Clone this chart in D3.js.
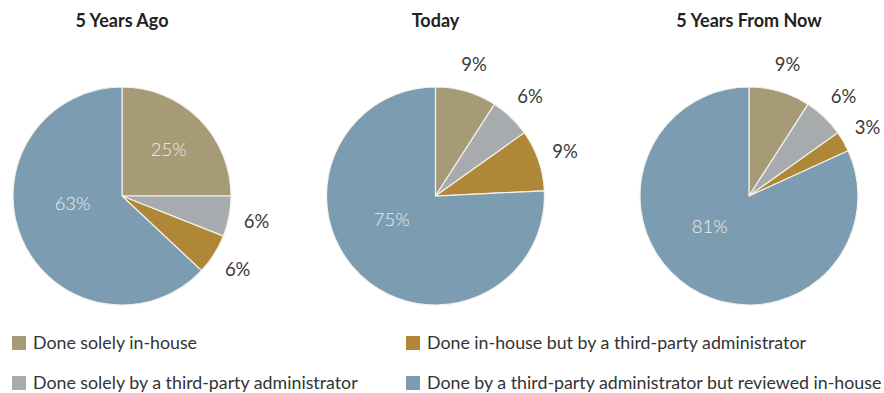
<!DOCTYPE html>
<html><head><meta charset="utf-8">
<script src="https://cdn.jsdelivr.net/npm/d3@7/dist/d3.min.js"></script>
<style>
body{margin:0;background:#fff;}
svg{display:block;font-family:Lato,"Open Sans",sans-serif;}
</style></head>
<body>
<svg id="chart" width="884" height="393"></svg>
<script>
const categories = [
  "Done solely in-house",
  "Done solely by a third-party administrator",
  "Done in-house but by a third-party administrator",
  "Done by a third-party administrator but reviewed in-house"
];
const pieTitles = ["5 Years Ago", "Today", "5 Years From Now"];
const fiveYearsAgo = [25, 6, 6, 63];
const today = [9, 6, 9, 75];
const fiveYearsFromNow = [9, 6, 3, 81];
const colors = ["#a69a77", "#a7abae", "#b08737", "#7c9db1"];
const legendOrder = [0, 2, 1, 3];

const series = [fiveYearsAgo, today, fiveYearsFromNow];
const svg = d3.select("#chart");
const R = 109;
const centersX = d3.scalePoint().domain(pieTitles).range([122, 749]);
const cy = 196;
const arc = d3.arc().innerRadius(0).outerRadius(R);

series.forEach((vals, i) => {
  const cx = centersX(pieTitles[i]);
  const g = svg.append("g").attr("transform", `translate(${cx},${cy})`);
  const total = d3.sum(vals);
  const arcs = d3.pie().sort(null).value(d => d)(vals);
  g.selectAll("path").data(arcs).join("path")
    .attr("d", arc)
    .attr("fill", (d, j) => colors[j])
    .attr("stroke", "#f3f1ea")
    .attr("stroke-width", 1.2);

  arcs.forEach((d, j) => {
    const share = d.value / total;
    const mid = (d.startAngle + d.endAngle) / 2;
    let r, ang = mid, fill, w = 400;
    if (share > 0.2) {
      fill = "#edefed";
      w = 300;
      if (share > 0.5) { r = 50; ang = d.startAngle + 0.565 * (d.endAngle - d.startAngle); }
      else { r = 66; }
    } else {
      fill = "#3a3a3a";
      r = 137;
    }
    g.append("text")
      .attr("x", r * Math.sin(ang))
      .attr("y", -r * Math.cos(ang))
      .attr("dy", "0.35em")
      .attr("text-anchor", "middle")
      .attr("font-size", 18.5)
      .attr("font-weight", w)
      .attr("fill", fill)
      .text(d.value + "%");
  });

  svg.append("text")
    .attr("x", cx).attr("y", 27)
    .attr("text-anchor", "middle")
    .attr("font-size", 18)
    .attr("font-weight", "bold")
    .attr("fill", "#222")
    .text(pieTitles[i]);
});

// legend
const legX = d3.scaleOrdinal().domain([0, 1]).range([12, 406]);
const legY = d3.scaleOrdinal().domain([0, 1]).range([336, 376]);
legendOrder.forEach((ci, k) => {
  const col = k % 2, row = Math.floor(k / 2);
  const g = svg.append("g").attr("transform", `translate(${legX(col)},${legY(row)})`);
  g.append("rect").attr("width", 14).attr("height", 14).attr("fill", colors[ci]);
  g.append("text").attr("x", 21).attr("y", 7).attr("dy", "0.36em")
    .attr("font-size", 17.8).attr("fill", "#333").text(categories[ci]);
});
</script>
</body></html>
